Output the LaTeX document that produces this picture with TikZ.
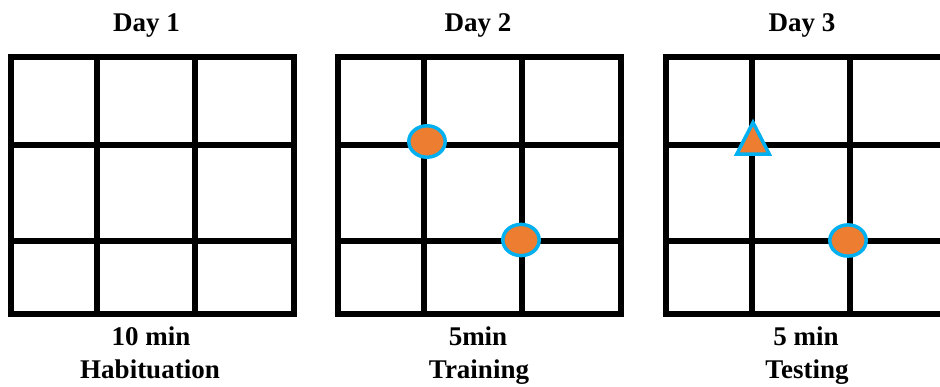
\documentclass[tikz,border=0pt]{standalone}
\usepackage{fontspec}
\setmainfont{Liberation Serif}[BoldFont={Liberation Serif Bold}]
\definecolor{objorange}{HTML}{ED7D31}
\definecolor{objblue}{HTML}{00B0F0}
\tikzset{
  gridline/.style={line width=6pt, black, line join=miter},
  marker/.style={draw=objblue, fill=objorange, line width=3.5pt, line join=miter},
  label/.style={font=\fontsize{27}{30}\selectfont\bfseries, anchor=base, inner sep=0pt},
}
% one open-field arena: vertical lines at x0 + 0/86/184/283, horizontal lines fixed
\newcommand{\arena}[2]{%
  \begin{scope}[shift={(#1,0)}]
    \draw[gridline] (0,57) rectangle (283,314);
    \draw[gridline] (86,57) -- (86,314);
    \draw[gridline] (184,57) -- (184,314);
    \draw[gridline] (0,145.5) -- (283,145.5);
    \draw[gridline] (0,241.5) -- (283,241.5);
    \coordinate (#2) at (141.5,0);
  \end{scope}}
\begin{document}
\begin{tikzpicture}[x=1pt,y=-1pt]
  \useasboundingbox (0,0) rectangle (940,387);
  \clip (0,0) rectangle (940,387);

  \arena{11}{a1}
  \arena{338}{a2}
  \arena{666}{a3}

  % day titles
  \node[label] (d1) at (146.5,32) {Day 1};
  \node[label] (d2) at (478,32) {Day 2};
  \node[label] (d3) at (802,32) {Day 3};

  % objects, day 2 (training)
  \draw[marker] (427,141.5) ellipse [x radius=18.2, y radius=15.7];
  \draw[marker] (521,240) ellipse [x radius=18.2, y radius=15.6];

  % objects, day 3 (testing: one object replaced)
  \draw[marker] (753,122.5) -- (769.3,154.2) -- (736.7,154.2) -- cycle;
  \draw[marker] (848,240.5) ellipse [x radius=18.2, y radius=15.6];

  % durations and phases
  \node[label] (t1) at (151,345) {10 min};
  \node[label] (p1) at (150,378) {Habituation};
  \node[label] (t2) at (478,345) {5min};
  \node[label] (p2) at (479,378) {Training};
  \node[label] (t3) at (806,345) {5 min};
  \node[label] (p3) at (807,378) {Testing};
\end{tikzpicture}
\end{document}
